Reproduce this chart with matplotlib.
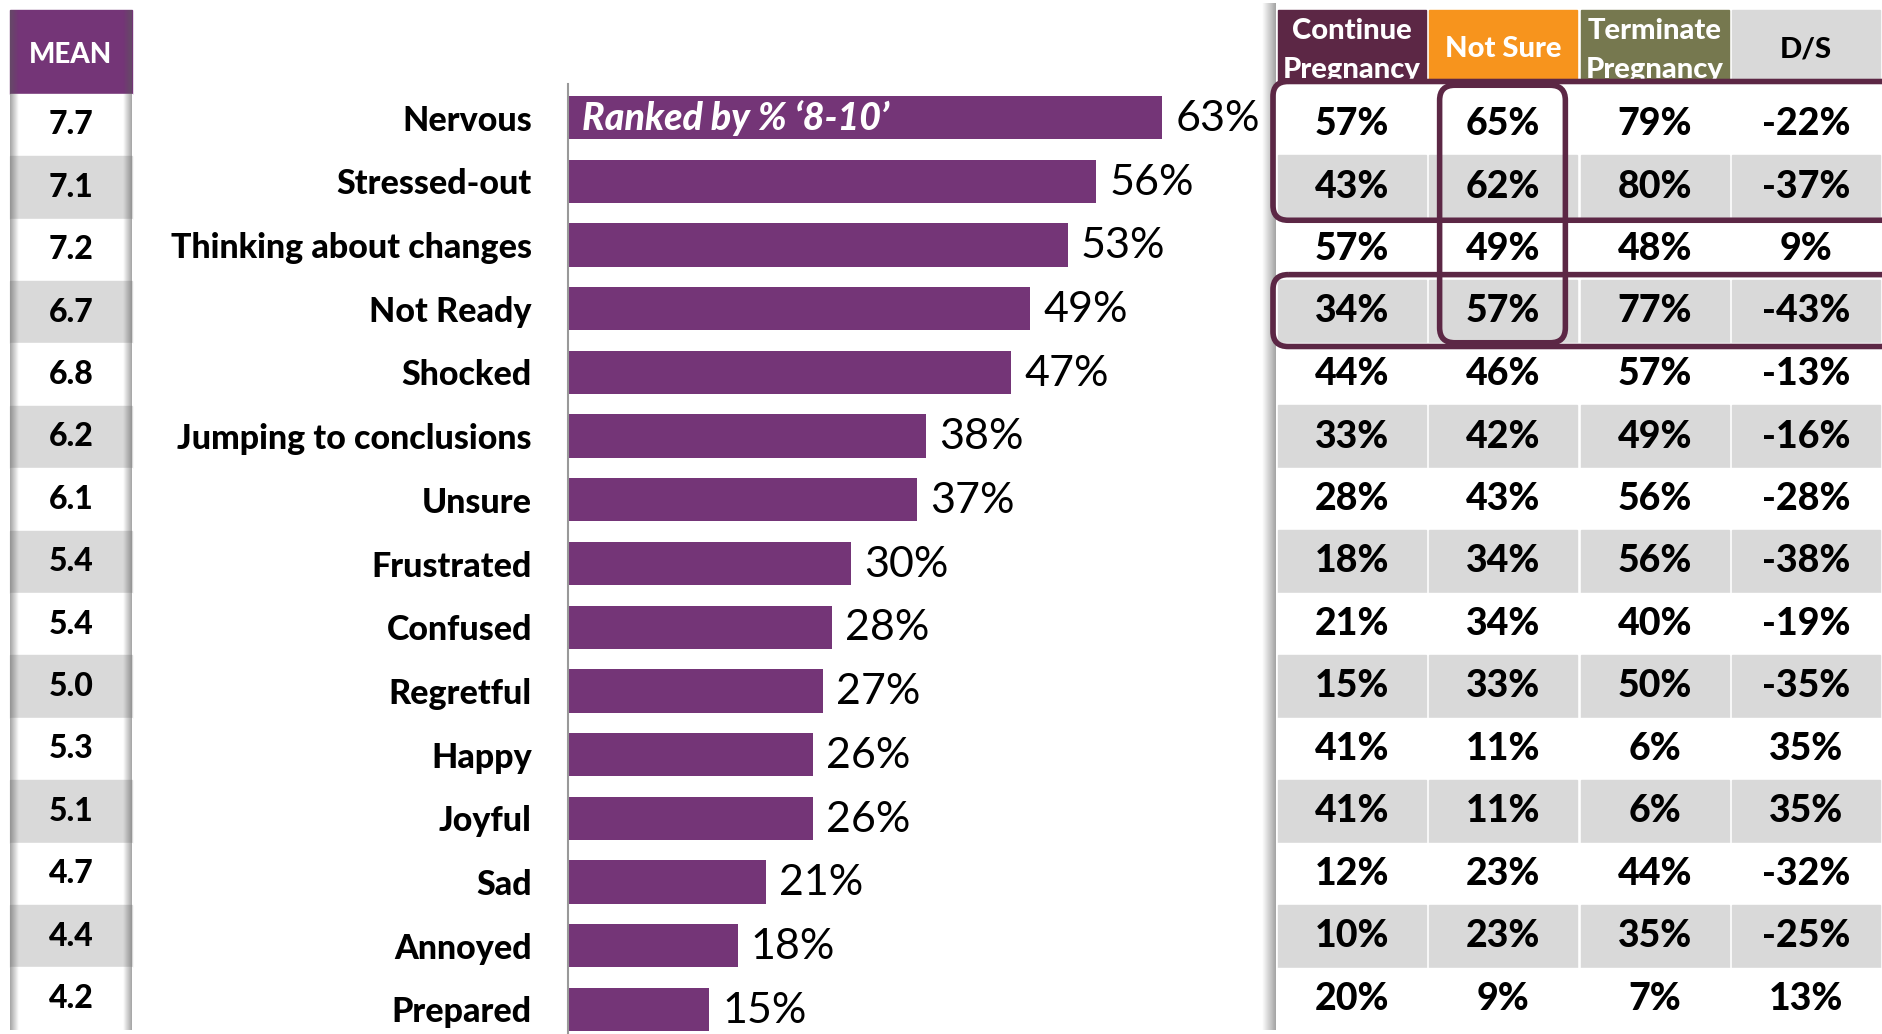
import matplotlib.pyplot as plt
import numpy as np
from matplotlib.patches import Rectangle, FancyBboxPatch

plt.rcParams['font.family'] = ['Lato', 'DejaVu Sans']

# data
emotions = ["Nervous", "Stressed-out", "Thinking about changes", "Not Ready", "Shocked",
            "Jumping to conclusions", "Unsure", "Frustrated", "Confused", "Regretful",
            "Happy", "Joyful", "Sad", "Annoyed", "Prepared"]
pct_8_10 = [63, 56, 53, 49, 47, 38, 37, 30, 28, 27, 26, 26, 21, 18, 15]
means = ["7.7", "7.1", "7.2", "6.7", "6.8", "6.2", "6.1", "5.4", "5.4", "5.0",
         "5.3", "5.1", "4.7", "4.4", "4.2"]
continue_preg = [57, 43, 57, 34, 44, 33, 28, 18, 21, 15, 41, 41, 12, 10, 20]
not_sure = [65, 62, 49, 57, 46, 42, 43, 34, 34, 33, 11, 11, 23, 23, 9]
terminate_preg = [79, 80, 48, 77, 57, 49, 56, 56, 40, 50, 6, 6, 44, 35, 7]
ds = [-22, -37, 9, -43, -13, -16, -28, -38, -19, -35, 35, 35, -32, -25, 13]
col_heads = ["Continue\nPregnancy", "Not Sure", "Terminate\nPregnancy", "D/S"]
head_colors = ["#5c2745", "#f7941d", "#76784f", "#d9d9d9"]
head_text = ["white", "white", "white", "black"]

PURPLE = "#743577"
GRAY = "#d9d9d9"
BOX = "#5c2745"
BOLD = 900

W, H = 1882, 1034
fig = plt.figure(figsize=(W / 100, H / 100), dpi=100)


def px_axes(x0, y0, x1, y1):
    ax = fig.add_axes([x0 / W, 1 - y1 / H, (x1 - x0) / W, (y1 - y0) / H])
    return ax


def shade(ax, x0, x1, y0, y1, left_dark=True, dark=0.55):
    g = np.linspace(dark, 0, 30)
    if not left_dark:
        g = g[::-1]
    rgba = np.zeros((1, 30, 4))
    rgba[..., :3] = 0.35
    rgba[..., 3] = g
    ax.imshow(rgba, extent=(x0, x1, y1, y0), aspect='auto', zorder=5, interpolation='bilinear')


n = len(emotions)

# ---- mean column ----
rh, c0 = 62.4, 125
axm = px_axes(4, 0, 140, H)
axm.set_xlim(-6 / 122, 1 + 8 / 122)
axm.set_ylim((H - c0) / rh, -c0 / rh)
axm.axis('off')
top_m = (10 - c0) / rh
axm.add_patch(Rectangle((0, top_m), 1, -0.5 - top_m, color=PURPLE, zorder=1))
axm.text(0.5, (top_m - 0.5) / 2 + 0.05, "MEAN", color="white", fontweight=BOLD, fontsize=20,
         ha="center", va="center")
for i, m in enumerate(means):
    axm.add_patch(Rectangle((0, i - 0.5), 1, 1, color="white" if i % 2 == 0 else GRAY, zorder=1))
    axm.text(0.5, i, m, fontweight=BOLD, fontsize=23, ha="center", va="center")
shade(axm, 0, 0.07, top_m, n - 0.5, left_dark=True)
shade(axm, 0.93, 1, top_m, n - 0.5, left_dark=False)

# ---- bar chart ----
bh, b0 = 63.7, 117.6
pxp = 9.43
axb = px_axes(568, 84, 1262, H)
axb.set_xlim(0, 694 / pxp)
axb.set_ylim((H - b0) / bh, -(b0 - 84) / bh)
y = np.arange(n)
axb.barh(y, pct_8_10, height=0.68, color=PURPLE)
for yi, v in zip(y, pct_8_10):
    axb.text(v + 1.4, yi + 0.02, f"{v}%", fontsize=31, va="center", ha="left")
axb.text(1.5, 0, "Ranked by % \u20188-10\u2019", color="white", fontsize=27,
         fontweight=BOLD, style="italic", va="center", ha="left")
axb.set_yticks(y)
axb.set_yticklabels(emotions, fontweight=BOLD, fontsize=24.5)
axb.tick_params(axis='y', length=0, pad=26)
axb.set_xticks([])
for s in ["top", "right", "bottom"]:
    axb.spines[s].set_visible(False)
axb.spines["left"].set_color("#999999")
axb.spines["left"].set_linewidth(1.5)

# ---- table ----
th, t0 = 62.5, 124
cw = 151.5
axt = px_axes(1262, 0, W, H)
axt.set_xlim(-14 / cw, 4)
axt.set_ylim((H - t0) / th, -t0 / th)
axt.axis('off')
htop = (10 - t0) / th
hbot = (82 - t0) / th
for j, (lab, hc, tc) in enumerate(zip(col_heads, head_colors, head_text)):
    r = Rectangle((j + 0.01, htop), 0.98, hbot - htop, color=hc, zorder=1)
    axt.add_patch(r)
    parts = lab.split("\n")
    if len(parts) == 2:
        axt.text(j + 0.5, (31 - t0) / th, parts[0], color=tc, fontweight=BOLD,
                 fontsize=21, ha="center", va="center")
        t2 = axt.text(j + 0.5, (70 - t0) / th, parts[1], color=tc, fontweight=BOLD,
                      fontsize=21, ha="center", va="center")
        t2.set_clip_path(r)
    else:
        axt.text(j + 0.5, (htop + hbot) / 2 + 0.05, lab, color=tc, fontweight=BOLD,
                 fontsize=21, ha="center", va="center")

cols = [continue_preg, not_sure, terminate_preg, ds]
for i in range(n):
    if i % 2 == 0:
        axt.add_patch(Rectangle((0, i - 0.5), 4, 1, color="white", zorder=1))
    else:
        for j in range(4):
            axt.add_patch(Rectangle((j + 0.01, i - 0.5), 0.98, 1, color=GRAY, zorder=1))
    for j, col in enumerate(cols):
        axt.text(j + 0.5, i, f"{col[i]}%", fontweight=BOLD, fontsize=27,
                 ha="center", va="center", zorder=4)
shade(axt, -14 / cw, 0, htop - 0.1, n - 0.5, left_dark=False)

# highlight boxes
boxes = [(-0.02, -0.68, 4.2, 2.22), (-0.02, 2.41, 4.2, 1.15), (1.08, -0.62, 0.83, 4.12)]
for bx, by, bw, bhh in boxes:
    axt.add_patch(FancyBboxPatch((bx, by), bw, bhh,
                                 boxstyle="round,pad=0,rounding_size=0.1",
                                 mutation_aspect=2.4, fill=False, edgecolor=BOX,
                                 linewidth=4, zorder=6, clip_on=False))

fig.savefig("out.png", dpi=100)
